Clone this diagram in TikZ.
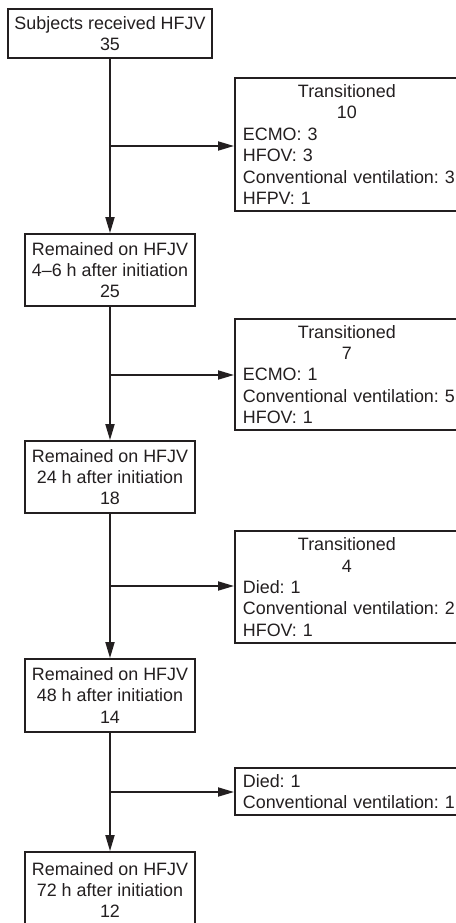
\documentclass[tikz,border=0pt]{standalone}
\usepackage{fontspec}
\setmainfont{Liberation Sans}
\usetikzlibrary{arrows.meta}
\definecolor{ink}{RGB}{35,31,32}
\begin{document}
\frenchspacing
\begin{tikzpicture}[x=1pt,y=-1pt,
  font=\fontsize{17.9}{21.4}\selectfont\frenchspacing,
  leftbox/.style={draw=ink, text=ink, line width=1.8pt, inner sep=0pt, align=center, minimum width=170pt},
  rightbox/.style={draw=ink, text=ink, line width=1.8pt, inner xsep=8pt, inner ysep=0pt, text width=240pt, align=left, minimum width=256pt, anchor=west},
  conn/.style={draw=ink, line width=1.8pt, -{Triangle[length=16pt,width=9pt]}}]
\useasboundingbox (0,0) rectangle (455,923);
\fill[white] (0,0) rectangle (455,923);

\node[leftbox, minimum width=204pt, minimum height=49pt] (B1) at (110,33.5) {Subjects received HFJV\\35};
\node[leftbox, minimum height=72pt] (B2) at (110,270) {Remained on HFJV\\4--6 h after initiation\\25};
\node[leftbox, minimum height=72pt] (B3) at (110,477) {Remained on HFJV\\24 h after initiation\\18};
\node[leftbox, minimum height=73pt] (B4) at (110,695.5) {Remained on HFJV\\48 h after initiation\\14};
\node[leftbox, minimum height=76pt] (B5) at (110,890) {Remained on HFJV\\72 h after initiation\\12};

\node[rightbox, minimum height=133pt] (R1) at (234,144.5) {\makebox[208pt][c]{Transitioned}\\\makebox[208pt][c]{10}\\ECMO: 3\\HFOV: 3\\Conventional ventilation: 3\\HFPV: 1};
\node[rightbox, minimum height=111pt] (R2) at (234,374.5) {\makebox[208pt][c]{Transitioned}\\\makebox[208pt][c]{7}\\ECMO: 1\\Conventional ventilation: 5\\HFOV: 1};
\node[rightbox, minimum height=112pt] (R3) at (234,587) {\makebox[208pt][c]{Transitioned}\\\makebox[208pt][c]{4}\\Died: 1\\Conventional ventilation: 2\\HFOV: 1};
\node[rightbox, minimum height=47pt] (R4) at (234,791.5) {Died: 1\\Conventional ventilation: 1};

\coordinate (j1) at (110,146);
\coordinate (j2) at (110,375);
\coordinate (j3) at (110,586);
\coordinate (j4) at (110,792);

\draw[conn] (B1.south) -- (B2.north);
\draw[conn] (B2.south) -- (B3.north);
\draw[conn] (B3.south) -- (B4.north);
\draw[conn] (B4.south) -- (B5.north);

\draw[conn] (j1) -- (j1 -| R1.west);
\draw[conn] (j2) -- (j2 -| R2.west);
\draw[conn] (j3) -- (j3 -| R3.west);
\draw[conn] (j4) -- (j4 -| R4.west);
\end{tikzpicture}
\end{document}
